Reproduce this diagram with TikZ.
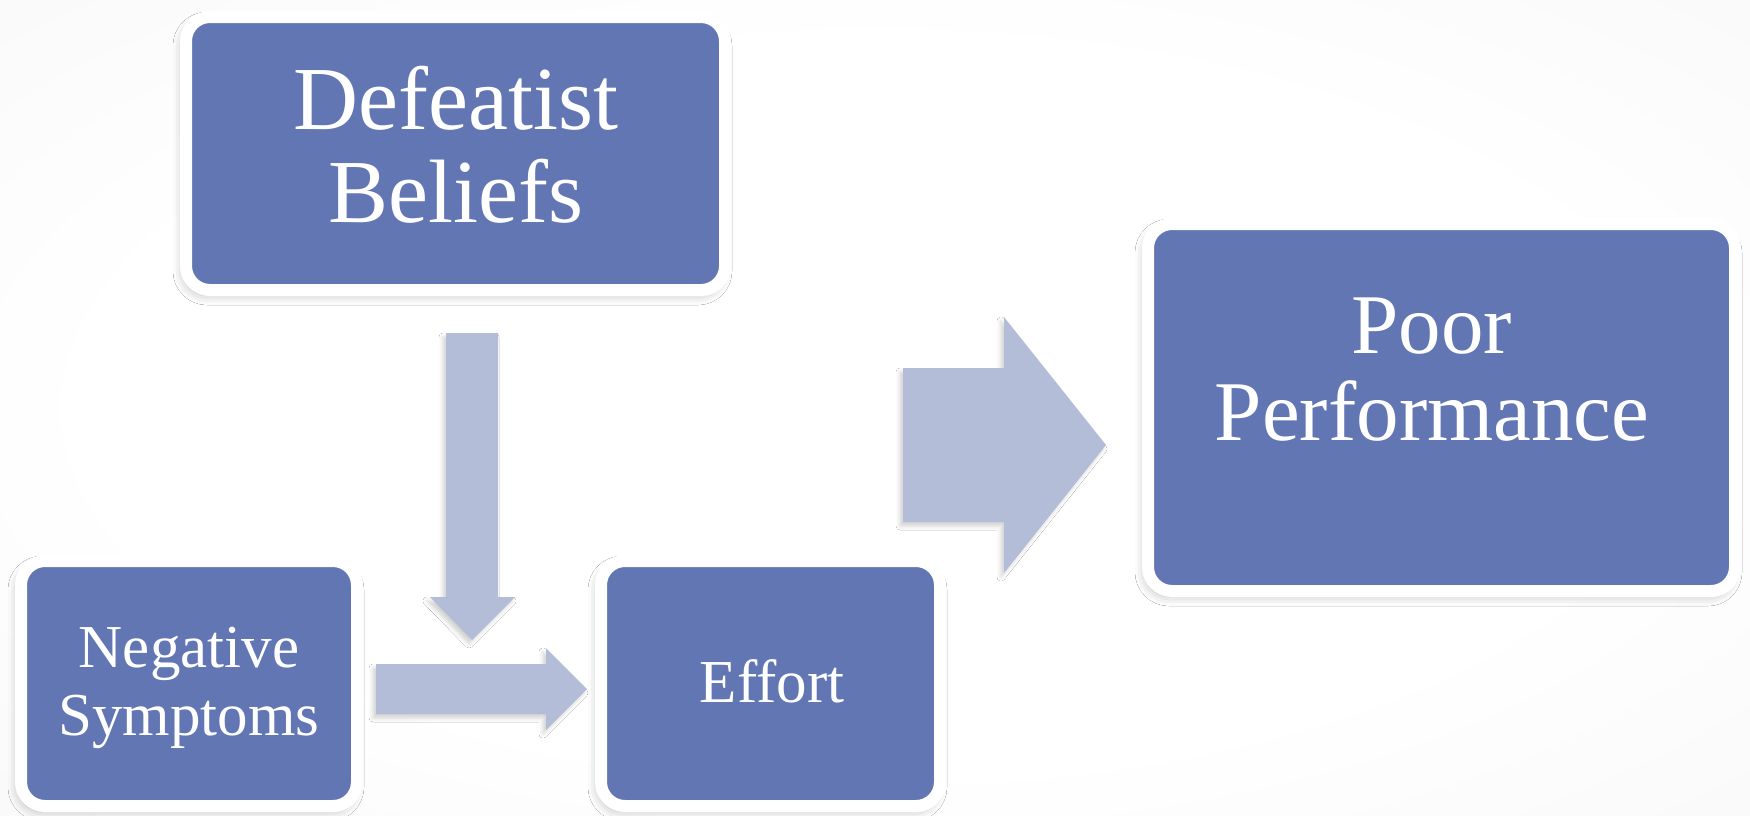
\documentclass[tikz,border=0pt]{standalone}
\usepackage{fontspec}
\setmainfont{Liberation Serif}
\usetikzlibrary{shadows.blur}

\definecolor{boxblue}{RGB}{97,118,179}
\definecolor{arrowblue}{RGB}{180,189,216}
\definecolor{bgedge}{RGB}{244,244,244}
\definecolor{bgcorner}{RGB}{234,234,234}
\pgfdeclareradialshading{backdrop}{\pgfpoint{0bp}{0bp}}{%
  color(0bp)=(white); color(22bp)=(white);
  color(50bp)=(bgedge); color(72bp)=(bgcorner)}

\begin{document}
\begin{tikzpicture}[x=1pt, y=-1pt,
  framedbox/.style={draw=white, line width=12pt, fill=boxblue,
    rounded corners=24pt, inner sep=0pt,
    blur shadow={shadow xshift=-3pt, shadow yshift=-5pt,
      shadow blur radius=10pt, shadow opacity=28}},
  blockarrow/.style={fill=arrowblue,
    blur shadow={shadow xshift=-3pt, shadow yshift=-4pt,
      shadow blur radius=4pt, shadow opacity=18}},
  boxtext/.style={text=white, inner sep=0pt, anchor=base},
  hugetext/.style={boxtext, font=\fontsize{90}{96}\selectfont},
  largetext/.style={boxtext, font=\fontsize{85}{92}\selectfont},
  midtext/.style={boxtext, font=\fontsize{61}{70}\selectfont}
]
% backdrop
\shade[shading=backdrop] (0,0) rectangle (1750,815);
\useasboundingbox (0,0) rectangle (1750,815);

% boxes
\node[framedbox, minimum width=539pt, minimum height=273pt] (defeat) at (455.5,153.5) {};
\node[framedbox, minimum width=336pt, minimum height=245pt] (negsym) at (189,683.5) {};
\node[framedbox, minimum width=339pt, minimum height=245pt] (effort) at (770.5,683.5) {};
\node[framedbox, minimum width=587pt, minimum height=367pt] (poor) at (1441.5,407.5) {};

% box captions
\node[hugetext] (defeat-a) at (456,129) {Defeatist};
\node[hugetext] (defeat-b) at (456,222) {Beliefs};
\node[midtext] (negsym-a) at (189,667) {Negative};
\node[midtext] (negsym-b) at (189,735) {Symptoms};
\node[midtext] (effort-a) at (772,702) {Effort};
\node[largetext] (poor-a) at (1432,353) {Poor};
\node[largetext] (poor-b) at (1432,440) {Performance};

% block arrows
\fill[blockarrow] (446,333) -- (498,333) -- (498,597) -- (515,597)
  -- (472,640) -- (430,597) -- (446,597) -- cycle;
\fill[blockarrow] (376,664) -- (546,664) -- (546,648) -- (587,689)
  -- (546,730) -- (546,714) -- (376,714) -- cycle;
\fill[blockarrow] (903,368) -- (1004,368) -- (1004,317) -- (1106,445)
  -- (1004,573) -- (1004,522) -- (903,522) -- cycle;
\end{tikzpicture}
\end{document}
